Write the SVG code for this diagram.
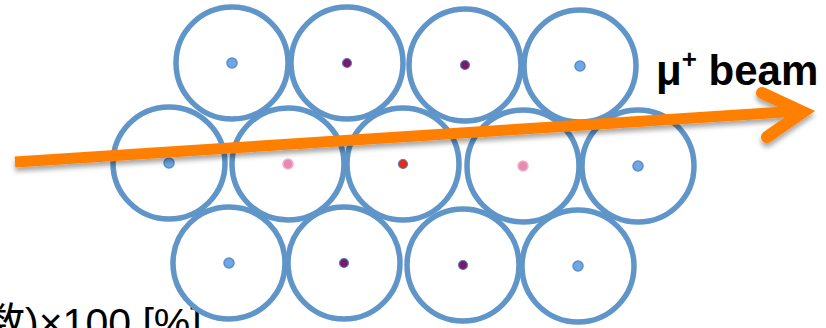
<svg xmlns="http://www.w3.org/2000/svg" width="826" height="328" viewBox="0 0 826 328">
<defs>
<style>
.cell{fill:#fff;stroke:#5F95C8;stroke-width:5.5}
.dB{fill:#6EA8E4;stroke:#5A8ECB;stroke-width:1.5}
.dP{fill:#7A1A6C;stroke:#5B80BA;stroke-width:1.2}
.dK{fill:#E68BAF;stroke:#F2AECB;stroke-width:1.5}
.dR{fill:#E8281C;stroke:#4F80BA;stroke-width:1.2}
.arr{fill:none;stroke:#FF7F00;stroke-width:11;stroke-linejoin:miter;stroke-linecap:butt}
.head{fill:none;stroke:#FF7F00;stroke-width:12;stroke-linejoin:miter;stroke-linecap:round}
.lbl{font-family:"Liberation Sans",Arial,sans-serif;font-weight:bold;font-size:42px;fill:#000}
.eq{font-family:"Liberation Sans","Noto Sans CJK JP",sans-serif;font-size:41px;fill:#000}
</style>
<filter id="sh" x="-5%" y="-50%" width="110%" height="200%">
<feDropShadow dx="0" dy="4" stdDeviation="2.5" flood-color="#000" flood-opacity="0.35"/>
</filter>
</defs>
<rect width="826" height="328" fill="#fff"/>
<g id="formula"><text class="eq" x="-16" y="337">数)×100 [%]</text></g>
<g id="n1"><circle class="cell" cx="232" cy="63" r="56"/><circle class="dB" cx="232" cy="63" r="5"/></g>
<g id="n2"><circle class="cell" cx="347" cy="63" r="56"/><circle class="dP" cx="347" cy="63" r="4.5"/></g>
<g id="n3"><circle class="cell" cx="465" cy="65" r="56"/><circle class="dP" cx="465" cy="65" r="4.5"/></g>
<g id="n4"><circle class="cell" cx="580" cy="66" r="56"/><circle class="dB" cx="580" cy="66" r="5"/></g>
<g id="n5"><circle class="cell" cx="169" cy="163" r="56"/><circle class="dB" cx="169" cy="163" r="5"/></g>
<g id="n6"><circle class="cell" cx="288" cy="164" r="56"/><circle class="dK" cx="288" cy="164" r="5"/></g>
<g id="n7"><circle class="cell" cx="403" cy="164" r="56"/><circle class="dR" cx="403" cy="164" r="4.5"/></g>
<g id="n8"><circle class="cell" cx="523" cy="166" r="56"/><circle class="dK" cx="523" cy="166" r="5"/></g>
<g id="n9"><circle class="cell" cx="638" cy="166" r="56"/><circle class="dB" cx="638" cy="166" r="5"/></g>
<g id="n10"><circle class="cell" cx="229" cy="263" r="56"/><circle class="dB" cx="229" cy="263" r="5"/></g>
<g id="n11"><circle class="cell" cx="344" cy="263" r="56"/><circle class="dP" cx="344" cy="263" r="4.5"/></g>
<g id="n12"><circle class="cell" cx="463" cy="265" r="56"/><circle class="dP" cx="463" cy="265" r="4.5"/></g>
<g id="n13"><circle class="cell" cx="578" cy="266" r="56"/><circle class="dB" cx="578" cy="266" r="5"/></g>
<g id="connectors" filter="url(#sh)">
<path class="arr" d="M15 162 L800 111"/>
<path class="head" d="M762 93 L803 112 L767 137"/>
</g>
<g id="beam-label"><text class="lbl" x="656" y="85">μ<tspan font-size="26" dy="-17">+</tspan><tspan dy="17"> beam</tspan></text></g>
</svg>
